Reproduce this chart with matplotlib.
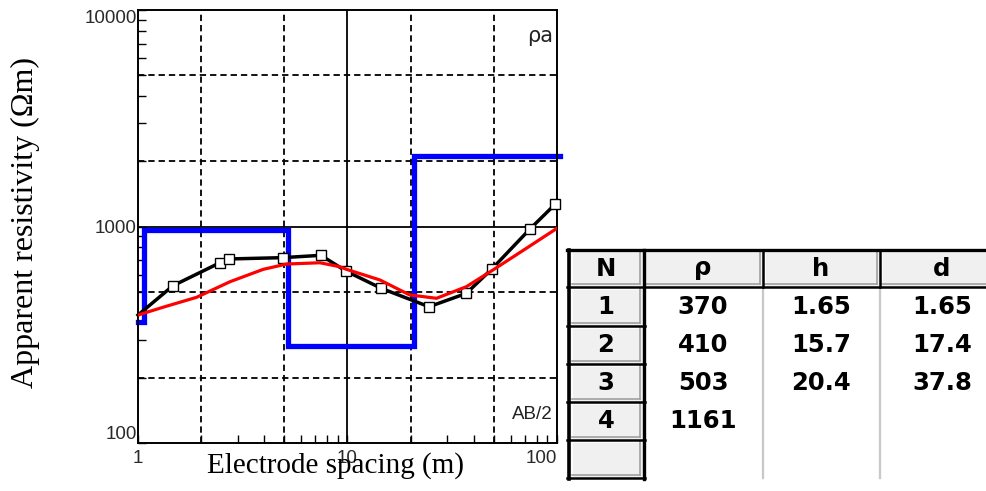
import matplotlib
matplotlib.use('Agg')
import matplotlib.pyplot as plt
from matplotlib.patches import Rectangle
from matplotlib.ticker import LogLocator, NullFormatter

# observed apparent resistivity (black line with markers, first point has no marker)
obs_x = [1.0, 1.47, 2.46, 2.72, 4.90, 7.46, 9.82, 14.5, 24.5, 36.9, 49.0, 74.0, 98.2]
obs_y = [390, 533, 680, 708, 718, 736, 623, 518, 426, 491, 638, 970, 1270]

# calculated curve (red)
calc_x = [1.0, 1.32, 1.905, 2.75, 3.96, 5.12, 7.38, 9.19, 9.89, 14.3, 19.8, 26.6,
          36.9, 49.5, 71.4, 99.0]
calc_y = [390, 424, 471, 556, 634, 671, 680, 652, 634, 566, 483, 466,
          527, 630, 793, 975]

# layered model as drawn (blue steps)
model_x = [1.0, 1.068, 5.21, 20.7, 103]
model_y = [364, 965, 282, 2120, 2120]

# table of layer parameters
tab_cols = ['N', 'ρ', 'h', 'd']
tab_n = ['1', '2', '3', '4', '']
tab_rho = ['370', '410', '503', '1161', '']
tab_h = ['1.65', '15.7', '20.4', '', '']
tab_d = ['1.65', '17.4', '37.8', '', '']

W, H = 987, 491
fig = plt.figure(figsize=(W / 100, H / 100), dpi=100)
ax = fig.add_axes([138 / W, 1 - 443 / H, (557 - 138) / W, (443 - 10) / H])
ax.set_xscale('log')
ax.set_yscale('log')
ax.set_xlim(1, 100)
ax.set_ylim(100, 10000)

# grid: solid at decades, dashed at 2 and 5
for v in [2, 5, 20, 50]:
    ax.axvline(v, color='black', lw=1.3, linestyle=(0, (3.5, 2.2)), zorder=0.5)
for v in [200, 500, 2000, 5000]:
    ax.axhline(v, color='black', lw=1.3, linestyle=(0, (3.5, 2.2)), zorder=0.5)
ax.axvline(10, color='black', lw=1.3, zorder=0.5)
ax.axhline(1000, color='black', lw=1.3, zorder=0.5)

ax.step(model_x, model_y, where='post', color='#0000ff', lw=3.8,
        solid_joinstyle='miter', clip_on=False, zorder=2)
ax.plot(obs_x, obs_y, color='black', lw=2.5, marker='s', ms=7,
        mfc='white', mec='black', mew=1.0, markevery=list(range(1, len(obs_x))),
        zorder=3, clip_on=False)
ax.plot(calc_x, calc_y, color='#ff0000', lw=2.3, zorder=4)

for sp in ax.spines.values():
    sp.set_linewidth(1.4)

ax.set_xticks([1, 10, 100])
ax.set_xticklabels(['1', '10', '100'])
ax.set_yticks([100, 1000, 10000])
ax.set_yticklabels(['100', '1000', '10000'])
ax.xaxis.set_minor_locator(LogLocator(base=10, subs=range(2, 10)))
ax.yaxis.set_minor_locator(LogLocator(base=10, subs=range(2, 10)))
ax.xaxis.set_minor_formatter(NullFormatter())
ax.yaxis.set_minor_formatter(NullFormatter())
ax.tick_params(which='both', direction='in', top=False, right=False,
               length=6, width=1.0, color='black')
ax.tick_params(axis='y', pad=1, labelsize=13.5, labelcolor='#2a2a2a')
ax.tick_params(axis='x', pad=5, labelsize=13.5, labelcolor='#2a2a2a')
for t in ax.get_xticklabels() + ax.get_yticklabels():
    t.set_fontfamily('Liberation Sans')
ax.get_xticklabels()[2].set_ha('right')
ax.get_yticklabels()[0].set_va('bottom')
ax.get_yticklabels()[2].set_va('top')

ax.text(0.99, 0.94, 'ρa', transform=ax.transAxes, ha='right', va='center',
        fontsize=15, family='DejaVu Sans', color='#222222')
ax.text(0.99, 0.065, 'AB/2', transform=ax.transAxes, ha='right', va='center',
        fontsize=13.5, family='Liberation Sans', color='#222222')

# overlay in pixel coordinates for labels and the table
ov = fig.add_axes([0, 0, 1, 1], zorder=5)
ov.set_xlim(0, W)
ov.set_ylim(H, 0)
ov.axis('off')

ov.text(335.5, 473, 'Electrode spacing (m)', ha='center', va='baseline',
        fontsize=21, family='Liberation Serif')
ov.text(33, 223, 'Apparent resistivity (Ωm)', ha='center', va='baseline',
        rotation=90, rotation_mode='anchor', fontsize=23, family='Liberation Serif')

col_edges = [570, 643, 763, 880, 1005]
row_edges = [250, 287, 326, 364, 402, 440, 478]
gray = '#f0f0f0'


def button(x0, x1, y0, y1):
    ov.add_patch(Rectangle((x0, y0), x1 - x0, y1 - y0, facecolor=gray,
                           edgecolor='none', zorder=1))
    ov.plot([x0 + 2, x1 - 2], [y0 + 2, y0 + 2], color='white', lw=1.2, zorder=2)
    ov.plot([x0 + 2, x0 + 2], [y0 + 2, y1 - 2], color='white', lw=1.2, zorder=2)
    ov.plot([x0 + 2, x1 - 3], [y1 - 3, y1 - 3], color='#a0a0a0', lw=1.2, zorder=2)
    ov.plot([x1 - 3, x1 - 3], [y0 + 2, y1 - 3], color='#a0a0a0', lw=1.2, zorder=2)


# header
for i in range(4):
    button(col_edges[i], col_edges[i + 1], row_edges[0], row_edges[1])
# N column buttons
for r in range(1, 6):
    button(col_edges[0], col_edges[1], row_edges[r], row_edges[r + 1])

# body separators
for x in col_edges[2:4]:
    ov.plot([x, x], [row_edges[1], row_edges[-1]], color='#c8c8c8', lw=1.6, zorder=2)
# black borders
ov.plot([567, W], [row_edges[0], row_edges[0]], color='black', lw=2.4, zorder=3)
ov.plot([567, W], [row_edges[1], row_edges[1]], color='black', lw=1.8, zorder=3)
ov.plot([568.5, 568.5], [row_edges[0], row_edges[-1] + 1], color='black', lw=2.6, zorder=3)
ov.plot([644, 644], [row_edges[0], row_edges[-1] + 1], color='black', lw=2.4, zorder=3)
for x in col_edges[2:4]:
    ov.plot([x, x], [row_edges[0], row_edges[1]], color='black', lw=1.8, zorder=3)
for y in row_edges[2:]:
    ov.plot([567, 645], [y, y], color='black', lw=1.8, zorder=3)

centers = [606, 703, 821, 942]
hy = (row_edges[0] + row_edges[1]) / 2
for c, lab in zip(centers, tab_cols):
    ov.text(c, hy, lab, ha='center', va='center', fontsize=17.5,
            fontweight='bold', family='DejaVu Sans', zorder=4)
for r in range(5):
    cy = (row_edges[r + 1] + row_edges[r + 2]) / 2
    for c, vals in zip(centers, [tab_n, tab_rho, tab_h, tab_d]):
        if vals[r]:
            ov.text(c, cy, vals[r], ha='center', va='center', fontsize=17.5,
                    fontweight='bold', family='DejaVu Sans', zorder=4)

fig.savefig('out.png', dpi=100)
